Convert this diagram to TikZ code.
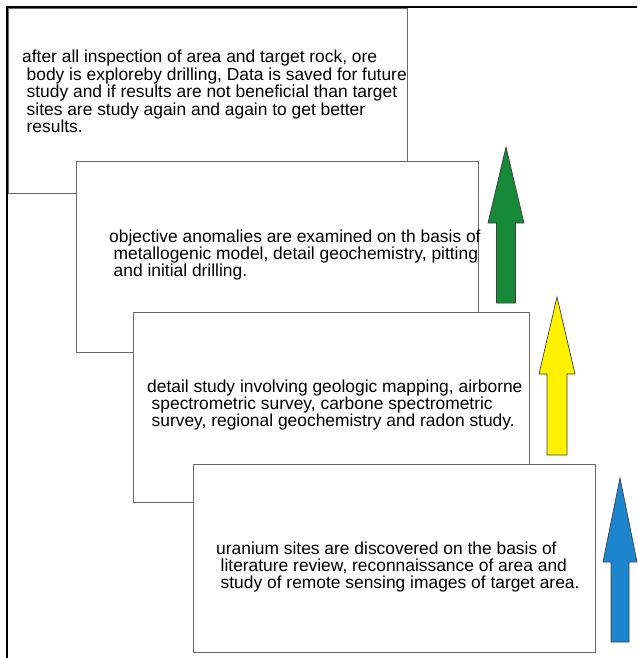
\documentclass[tikz,border=0pt]{standalone}
\usepackage{fontspec}
\newfontfamily\arial{Liberation Sans}
\usetikzlibrary{positioning}
\definecolor{cardgray}{RGB}{105,105,105}
\definecolor{arrowgreen}{RGB}{22,138,56}
\definecolor{arrowyellow}{RGB}{255,242,0}
\definecolor{arrowblue}{RGB}{28,133,205}

\begin{document}
\begin{tikzpicture}[x=1pt, y=-1pt, line join=miter]
    \tikzset{card/.style={draw=cardgray, fill=white, line width=0.9pt, inner sep=0pt, outer sep=0pt, anchor=north west},
             cardtext/.style={anchor=base west, align=left, inner sep=0pt, font=\arial\fontsize{17.4}{17.4}\selectfont},
             bigarrow/.style={draw=black!75, line width=0.7pt}}
    \useasboundingbox (0,0) rectangle (637,658);

    % stages, the first one at the back (text placed at its last baseline)
    \node[card, minimum width=399pt, minimum height=185pt] (stage4) at (8,8) {};
    \node[cardtext] (text4) at (22,132.6) {after all inspection of area and target rock, ore\\
        \hspace*{4.5pt}body is exploreby drilling, Data is saved for future\\
        \hspace*{4.5pt}study and if results are not beneficial than target\\
        \hspace*{4.5pt}sites are study again and again to get better\\
        \hspace*{4.5pt}results.};

    \node[card, minimum width=402pt, minimum height=191pt] (stage3) at (76,161) {};
    \node[cardtext] (text3) at (109,276.8) {objective anomalies are examined on th basis of\\
        \hspace*{4.5pt}metallogenic model, detail geochemistry, pitting\\
        \hspace*{4.5pt}and initial drilling.};

    \node[card, minimum width=396pt, minimum height=190pt] (stage2) at (133,312) {};
    \node[cardtext] (text2) at (147,426.8) {detail study involving geologic mapping, airborne\\
        \hspace*{4.5pt}spectrometric survey, carbone spectrometric\\
        \hspace*{4.5pt}survey, regional geochemistry and radon study.};

    \node[card, minimum width=402pt, minimum height=188pt] (stage1) at (193,464) {};
    \node[cardtext] (text1) at (216,588.8) {uranium sites are discovered on the basis of\\
        \hspace*{4.5pt}literature review, reconnaissance of area and\\
        \hspace*{4.5pt}study of remote sensing images of target area.};

    % block arrows
    \foreach \cx/\ty/\hb/\bt/\hw/\sw/\col in {506/147/223/303/18/9.5/arrowgreen,
                                               557/297/374/455/18/10/arrowyellow,
                                               620/478/562/642/17/9/arrowblue}
        \draw[bigarrow, fill=\col] (\cx,\ty) -- (\cx+\hw,\hb) -- (\cx+\sw,\hb) -- (\cx+\sw,\bt)
            -- (\cx-\sw,\bt) -- (\cx-\sw,\hb) -- (\cx-\hw,\hb) -- cycle;

    % frame
    \draw[line width=2.5pt] (7,658) -- (7,7) -- (637,7);
\end{tikzpicture}
\end{document}
